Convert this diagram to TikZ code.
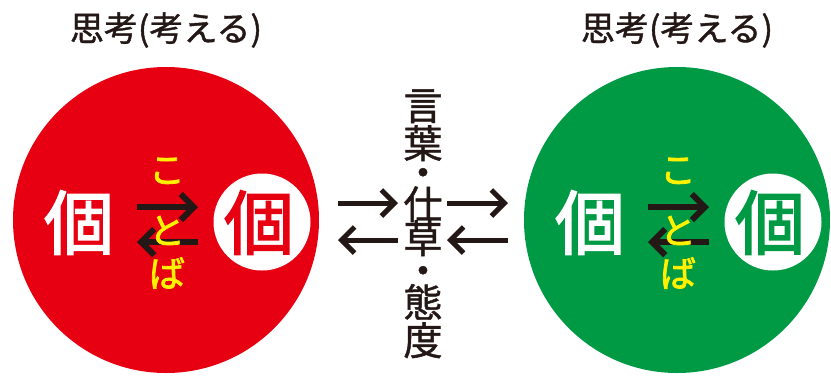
\documentclass[tikz,border=0pt]{standalone}
\usepackage{fontspec}
\setmainfont{Noto Sans CJK JP}
\newfontfamily\medfont[FakeBold=1.2]{Noto Sans CJK JP}
\newfontfamily\heavyfont[FakeBold=2.2]{Noto Sans CJK JP}
\usetikzlibrary{arrows.meta}
\definecolor{redc}{HTML}{E60012}
\definecolor{greenc}{HTML}{009A44}
\definecolor{kanac}{HTML}{FFF100}
\definecolor{inkc}{HTML}{231815}

\begin{document}
\begin{tikzpicture}[x=1pt, y=-1pt,
	disc/.style={circle, inner sep=0pt, minimum size=306pt},
	ko/.style={anchor=base, inner sep=0pt, font=\fontsize{70}{70}\heavyfont},
	kana/.style={anchor=base, inner sep=0pt, text=kanac, font=\fontsize{36}{36}\heavyfont},
	midtxt/.style={anchor=base, inner sep=0pt, text width=39pt, align=center, text=inkc, font=\fontsize{39}{39}\medfont},
	title/.style={anchor=base, inner sep=0pt, text=inkc, font=\fontsize{34}{34}\medfont},
	arr/.style={draw=inkc, line width=6pt, -{Straight Barb[length=13pt, width=26pt]}},
	midarr/.style={draw=inkc, line width=5pt, -{Straight Barb[length=13pt, width=26pt]}}]
	\useasboundingbox (0,0) rectangle (831,376);
	%circles
	\foreach \cx/\col/\s in {166/redc/l, 677/greenc/r}{
		\node[disc, fill=\col] (\s disc) at (\cx,220) {};
		\node[disc, fill=white, minimum size=97pt] (\s self) at (\cx+96,222) {};
		\node[title] (\s title) at (\cx,41) {思考(考える)};
		\node[ko, text=white] (\s other) at (\cx-87,249) {個};
		\node[ko, text=\col] (\s me) at (\cx+93,249) {個};
		%arrows
		\coordinate (\s a1) at (\cx-29,207);
		\coordinate (\s a2) at (\cx+32,207);
		\coordinate (\s b1) at (\cx+32,242);
		\coordinate (\s b2) at (\cx-29,242);
		\draw[arr] (\s a1) -- (\s a2);
		\draw[arr] (\s b1) -- (\s b2);
		%kana
		\node[kana] (\s k1) at (\cx+1,183) {こ};
		\node[kana] (\s k2) at (\cx+1,244) {と};
		\node[kana] (\s k3) at (\cx+1,287) {ば};
	}
	%middle
	\foreach \ch/\y [count=\i] in {言/120, 葉/158, ・/187, 仕/219, 草/253, ・/285, 態/317, 度/355}
	\node[midtxt] (m\i) at (423,\y) {\ch};
	\coordinate (p1) at (338,203);
	\coordinate (p2) at (398,203);
	\coordinate (p3) at (398,240);
	\coordinate (p4) at (338,240);
	\coordinate (q1) at (447,203);
	\coordinate (q2) at (508,203);
	\coordinate (q3) at (508,240);
	\coordinate (q4) at (447,240);
	\draw[midarr] (p1) -- (p2);
	\draw[midarr] (p3) -- (p4);
	\draw[midarr] (q1) -- (q2);
	\draw[midarr] (q3) -- (q4);
\end{tikzpicture}
\end{document}
